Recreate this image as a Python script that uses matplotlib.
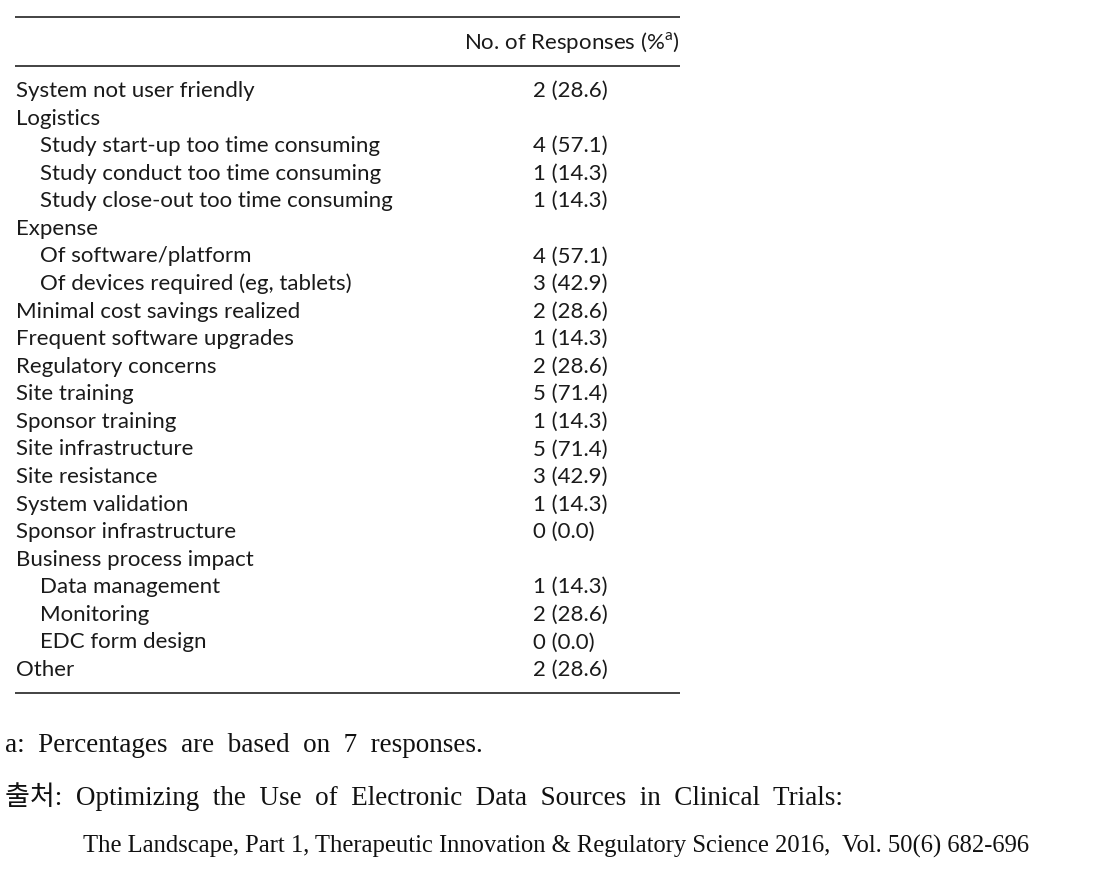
import matplotlib
matplotlib.use("Agg")
import matplotlib.pyplot as plt

labels = ["System not user friendly", "Logistics", "Study start-up too time consuming",
          "Study conduct too time consuming", "Study close-out too time consuming",
          "Expense", "Of software/platform", "Of devices required (eg, tablets)",
          "Minimal cost savings realized", "Frequent software upgrades",
          "Regulatory concerns", "Site training", "Sponsor training",
          "Site infrastructure", "Site resistance", "System validation",
          "Sponsor infrastructure", "Business process impact", "Data management",
          "Monitoring", "EDC form design", "Other"]
indent = [0, 0, 1, 1, 1, 0, 1, 1, 0, 0, 0, 0, 0, 0, 0, 0, 0, 0, 1, 1, 1, 0]
counts = [2, None, 4, 1, 1, None, 4, 3, 2, 1, 2, 5, 1, 5, 3, 1, 0, None, 1, 2, 0, 2]
percents = [28.6, None, 57.1, 14.3, 14.3, None, 57.1, 42.9, 28.6, 14.3, 28.6, 71.4,
            14.3, 71.4, 42.9, 14.3, 0.0, None, 14.3, 28.6, 0.0, 28.6]
header = "No. of Responses (%$^\\mathrm{a}$)"
footnote = "a:  Percentages  are  based  on  7  responses."
source1 = "출처:  Optimizing  the  Use  of  Electronic  Data  Sources  in  Clinical  Trials:"
source2 = "The Landscape, Part 1, Therapeutic Innovation & Regulatory Science 2016,  Vol. 50(6) 682-696"

plt.rcParams['mathtext.fontset'] = 'custom'
plt.rcParams['mathtext.rm'] = 'Lato'

W, H = 1097, 886
fig = plt.figure(figsize=(W / 100, H / 100), dpi=100)
ax = fig.add_axes([0, 0, 1, 1])
ax.set_xlim(0, W)
ax.set_ylim(H, 0)
ax.axis("off")

tfont = dict(family="Lato", fontsize=16, color="#1a1a1a", va="center")
ax.hlines([17, 66, 693], 15, 680, color="#222222", lw=1.2)
ax.text(680, 42, header, ha="right", **tfont)

y0, dy = 91, 27.57
for i, lab in enumerate(labels):
    y = y0 + i * dy
    ax.text(16 + 24 * indent[i], y, lab, ha="left", **tfont)
    if counts[i] is not None:
        ax.text(533, y, f"{counts[i]} ({percents[i]:.1f})", ha="left", **tfont)

sfont = ["Liberation Serif", "Noto Sans CJK KR"]
ax.text(5, 745, footnote, ha="left", va="center", family=sfont, fontsize=19.5, color="#111111")
ax.text(5, 797, source1, ha="left", va="center", family=sfont, fontsize=19.5, color="#111111")
ax.text(83, 846, source2, ha="left", va="center", family="Liberation Serif", fontsize=17.7,
        color="#111111")

fig.savefig("out.png", dpi=100, facecolor="white")
